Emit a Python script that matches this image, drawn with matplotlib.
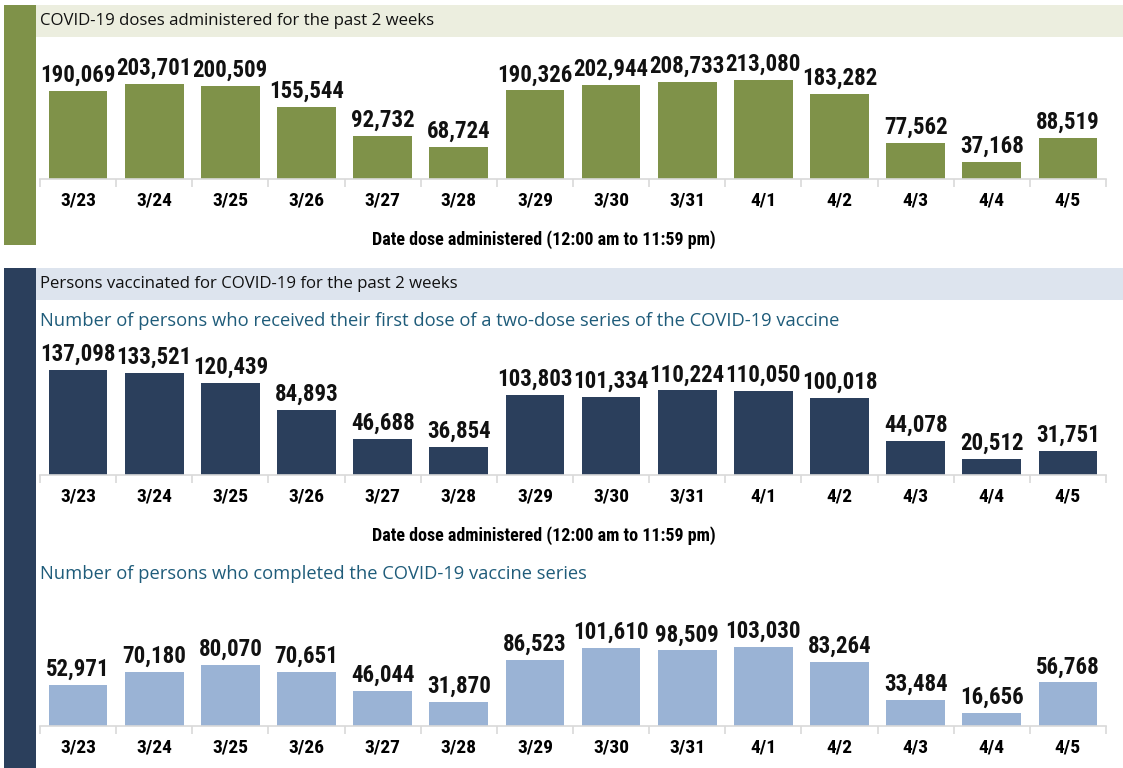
import matplotlib
matplotlib.use("Agg")
import matplotlib.pyplot as plt
from matplotlib.patches import Rectangle
from matplotlib import font_manager as fm

dates = ["3/23", "3/24", "3/25", "3/26", "3/27", "3/28", "3/29", "3/30", "3/31",
         "4/1", "4/2", "4/3", "4/4", "4/5"]
doses = [190069, 203701, 200509, 155544, 92732, 68724, 190326, 202944, 208733,
         213080, 183282, 77562, 37168, 88519]
first_dose = [137098, 133521, 120439, 84893, 46688, 36854, 103803, 101334, 110224,
              110050, 100018, 44078, 20512, 31751]
completed = [52971, 70180, 80070, 70651, 46044, 31870, 86523, 101610, 98509,
             103030, 83264, 33484, 16656, 56768]

title1 = "COVID-19 doses administered for the past 2 weeks"
title2 = "Persons vaccinated for COVID-19 for the past 2 weeks"
sub1 = "Number of persons who received their first dose of a two-dose series of the COVID-19 vaccine"
sub2 = "Number of persons who completed the COVID-19 vaccine series"
xlab = "Date dose administered (12:00 am to 11:59 pm)"

def pick(cands):
    for c in cands:
        try:
            fm.findfont(fm.FontProperties(family=c), fallback_to_default=False)
            return c
        except Exception:
            pass
    return "DejaVu Sans"

COND = pick(["Liberation Sans Narrow", "Roboto Condensed", "Open Sans Condensed", "Roboto"])
REG = pick(["Open Sans", "Noto Sans", "DejaVu Sans"])

W, H = 1123, 768
fig = plt.figure(figsize=(W / 100, H / 100), dpi=100)
fig.patch.set_facecolor("white")

GREEN = "#7F9249"
NAVY = "#2B3F5C"
LIGHT = "#9AB3D5"
GBAND = "#ECEEDF"
BBAND = "#DDE4EE"
SUBC = "#1F5C7A"

def rect(x0, y0, x1, y1, color):
    fig.add_artist(Rectangle((x0 / W, 1 - y1 / H), (x1 - x0) / W, (y1 - y0) / H,
                             transform=fig.transFigure, color=color, lw=0, zorder=0))

def ftext(x, y, s, **kw):
    fig.text(x / W, 1 - y / H, s, **kw)

# stripes and bands
rect(4, 5, 36, 245, GREEN)
rect(36, 5, 1123, 37, GBAND)
rect(4, 268, 36, 768, NAVY)
rect(36, 268, 1123, 300, BBAND)

ftext(40, 21, title1, family=REG, fontsize=12.1, va="center", ha="left", color="#111111")
ftext(40, 284, title2, family=REG, fontsize=12.1, va="center", ha="left", color="#111111")
ftext(40, 321, sub1, family=REG, fontsize=13.2, va="center", ha="left", color=SUBC)
ftext(40, 574, sub2, family=REG, fontsize=13.2, va="center", ha="left", color=SUBC)
ftext(544, 240, xlab, family=COND, fontsize=13, weight="bold", va="center", ha="center")
ftext(544, 536, xlab, family=COND, fontsize=13, weight="bold", va="center", ha="center")

def panel(vals, color, top, base, scale):
    x0, x1 = 40, 1106
    ax = fig.add_axes([x0 / W, 1 - base / H, (x1 - x0) / W, (base - top) / H])
    n = len(vals)
    xs = list(range(n))
    bars = ax.bar(xs, vals, width=0.77, color=color, zorder=2)
    ax.set_xlim(-0.5, n - 0.5)
    ax.set_ylim(0, (base - top) / scale * 1000)
    for s in ["top", "right", "left"]:
        ax.spines[s].set_visible(False)
    ax.spines["bottom"].set_color("#D9D9D9")
    ax.spines["bottom"].set_linewidth(1.2)
    ax.set_yticks([])
    ax.set_xticks(xs)
    ax.set_xticklabels(dates, family=COND, fontsize=14, weight="bold")
    ax.tick_params(axis="x", which="major", length=0, pad=9)
    ax.set_xticks([i - 0.5 for i in range(n + 1)], minor=True)
    ax.tick_params(axis="x", which="minor", length=6, color="#D9D9D9", width=1.2)
    ax.patch.set_alpha(0)
    for b, v in zip(bars, vals):
        ax.annotate(f"{v:,}", (b.get_x() + b.get_width() / 2, v), xytext=(0, 3),
                    textcoords="offset points", ha="center", va="bottom",
                    family=COND, fontsize=16.5, weight="bold", color="#111111")
    return ax

panel(doses, GREEN, 45, 179, 0.465)
panel(first_dose, NAVY, 330, 475, 0.767)
panel(completed, LIGHT, 600, 726, 0.767)

fig.savefig("out.png", dpi=100)
